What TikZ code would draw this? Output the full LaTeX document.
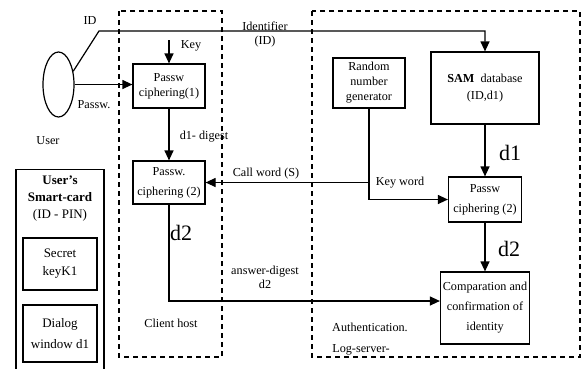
\documentclass[tikz,border=0pt]{standalone}
\usepackage{fontspec}
\setmainfont{Liberation Serif}
\usetikzlibrary{shapes.geometric,arrows.meta}

\begin{document}
\begin{tikzpicture}[
        x = 1pt,
        y = -1pt,
        line width = 1.2pt,
        box/.style = {draw, align = center, inner sep = 0pt, font = \fontsize{12.2}{15}\selectfont},
        txt/.style = {align = center, inner sep = 0pt, font = \fontsize{12.2}{14}\selectfont},
        big/.style = {inner sep = 0pt, font = \fontsize{22}{22}\selectfont},
        arr/.style = {-{Triangle[length = 10pt, width = 9pt]}},
        frame/.style = {dash pattern = on 5pt off 4pt}
    ]
        \useasboundingbox (0, 0) rectangle (581, 368);
        \fill[white] (0, 0) rectangle (581, 368);

        \draw[frame] (119, 11) rectangle (222, 357);
        \draw[frame] (312, 11) rectangle (580, 357);

        \node[ellipse, draw, minimum width = 31, minimum height = 65, inner sep = 0pt] (user) at (58.5, 84.5) {};
        \node[box, minimum width = 72, minimum height = 44] (pcone) at (169, 86) {Passw\\ciphering(1)};
        \node[box, minimum width = 72, minimum height = 43, font = \fontsize{12.2}{20}\selectfont] (pctwo) at (169, 182.5) {Passw.\\ciphering (2)};
        \node[box, minimum width = 72, minimum height = 50] (rng) at (369, 83) {Random\\number\\generator};
        \node[box, minimum width = 108, minimum height = 72, font = \fontsize{12.2}{17}\selectfont] (sam) at (485, 88) {\textbf{SAM}\ \ database\\(ID,d1)};
        \node[box, minimum width = 73, minimum height = 45, font = \fontsize{12.2}{20}\selectfont] (pcthree) at (485, 199.5) {Passw\\ciphering (2)};
        \node[box, minimum width = 89, minimum height = 72, font = \fontsize{12.2}{20}\selectfont] (cmp) at (485, 308) {Comparation and\\confirmation of\\identity};

        \node[box, minimum width = 88, minimum height = 206, anchor = north] (card) at (60, 169) {};
        \node[txt, font = \fontsize{13}{17}\selectfont] (cardtitle) at (60, 199) {\textbf{User's}\\\textbf{Smart-card}\\(ID - PIN)};
        \node[box, minimum width = 74, minimum height = 52, font = \fontsize{13}{18}\selectfont] (secret) at (60, 264) {Secret\\keyK1};
        \node[box, minimum width = 74, minimum height = 57, font = \fontsize{13}{21}\selectfont] (dialog) at (60, 333.5) {Dialog\\window d1};

        \coordinate (idbend) at (99, 31);
        \coordinate (keyin) at (169, 40);
        \draw[arr] (user.42) -- (idbend) -| (sam.north);
        \draw[arr] (user.east) -- (user.east -| pcone.west);
        \draw[arr] (keyin) -- (pcone.north);
        \draw[arr] (pcone) -- (pctwo);
        \draw[arr] (rng.south |- pctwo.east) -- (pctwo.east);
        \draw[arr] (rng.south) |- (pcthree.west);
        \draw[arr] (sam) -- (pcthree);
        \draw[arr] (pcthree) -- (cmp);
        \draw[arr] (pctwo.south) |- ([yshift = 7pt]cmp.west);

        \node[txt] (idlbl) at (90, 21) {ID};
        \node[txt] (identlbl) at (265, 34) {Identifier\\(ID)};
        \node[txt] (passlbl) at (94, 105) {Passw.};
        \node[txt] (keylbl) at (191, 46) {Key};
        \node[txt] (userlbl) at (48, 141) {User};
        \node[txt] (digestlbl) at (204, 137) {d1- digest};
        \node[txt] (calllbl) at (266, 174) {Call word (S)};
        \node[txt] (keywordlbl) at (400, 183) {Key word};
        \node[big] (donelbl) at (510, 153) {d1};
        \node[big] (dtwolbl) at (509, 249) {d2};
        \node[big] (dtwoclient) at (181, 233) {d2};
        \node[txt] (answerlbl) at (265, 277) {answer-digest\\d2};
        \node[txt] (clientlbl) at (171, 323) {Client host};
        \node[txt] (authlbl) at (370, 327) {Authentication.};
        \node[txt] (loglbl) at (361, 350) {Log-server-};
    \end{tikzpicture}
\end{document}
